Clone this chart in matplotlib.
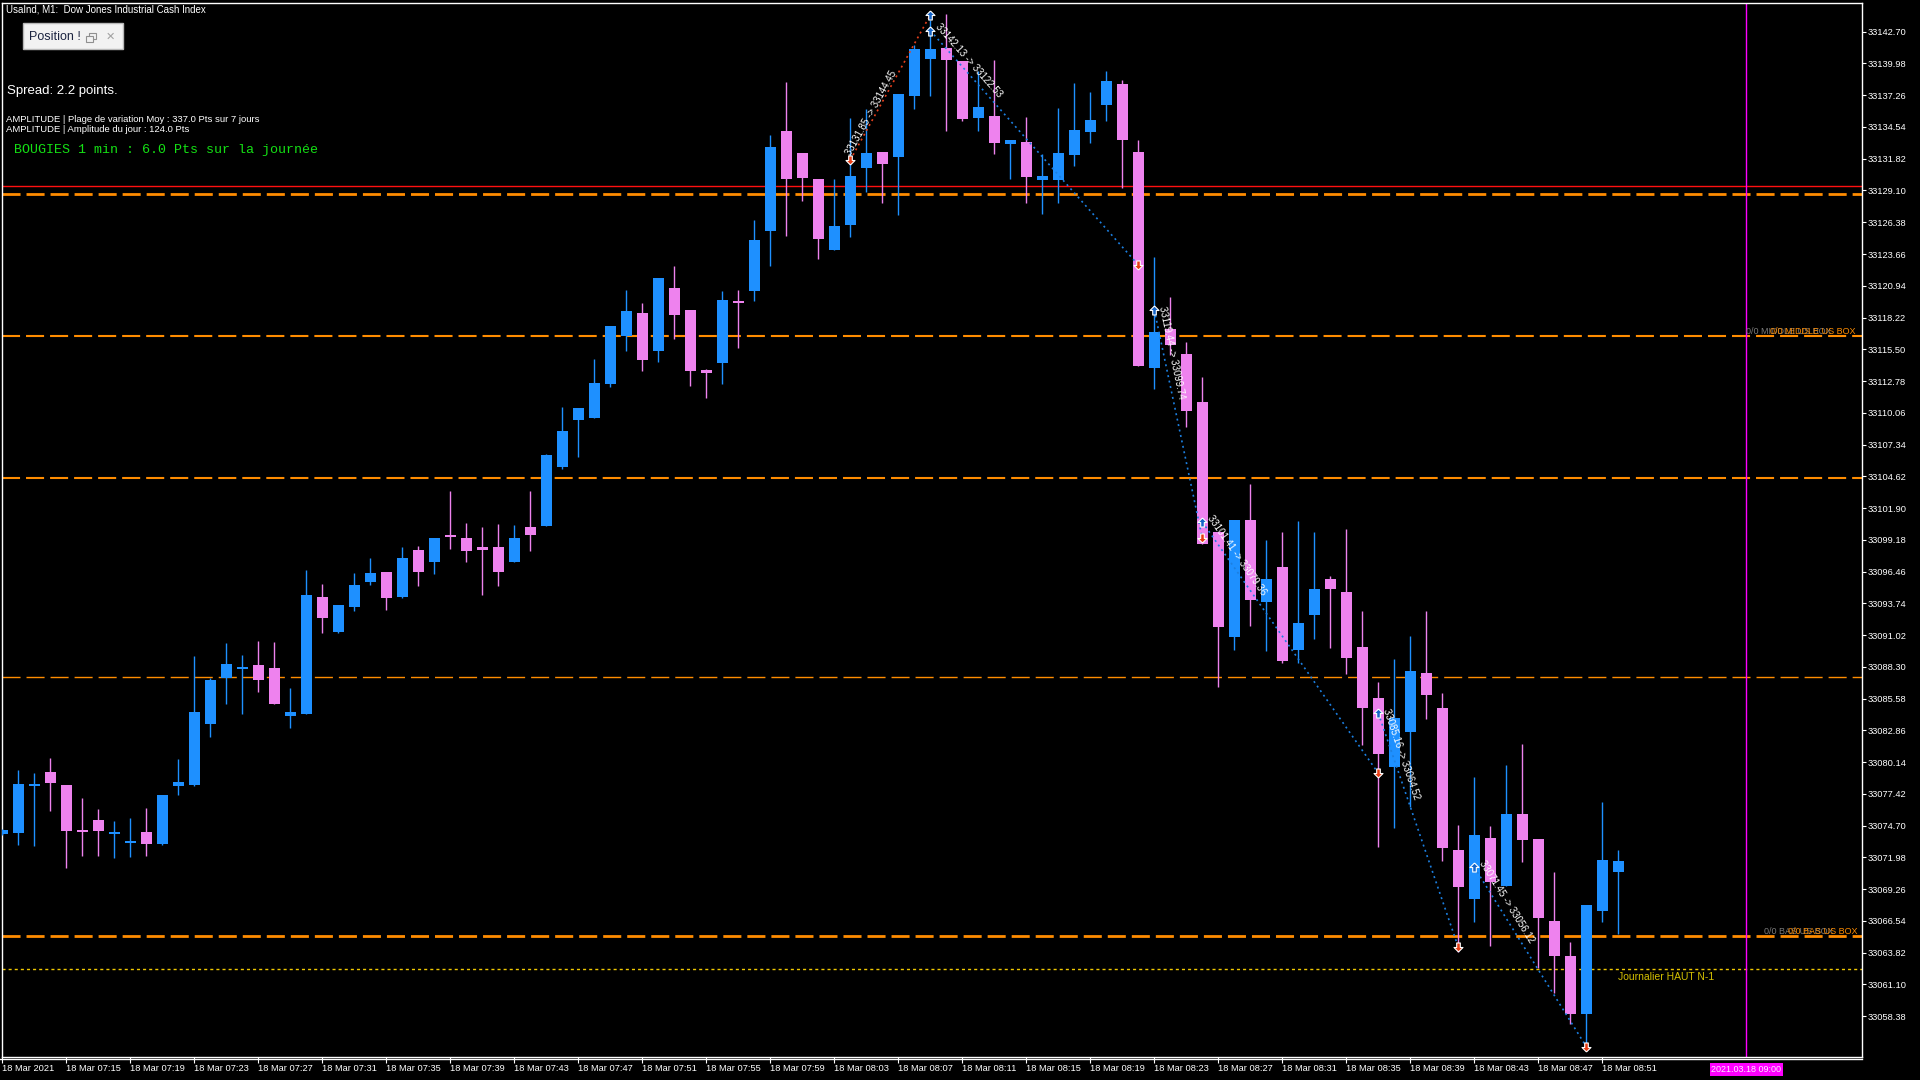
import math
import numpy as np
import matplotlib

matplotlib.use('Agg')
import matplotlib.pyplot as plt
from matplotlib.patches import Rectangle
from matplotlib.lines import Line2D
from matplotlib.path import Path

W, H = 1920, 1080

# UsaInd M1 candles, one per minute from 18 Mar 07:11 to 08:52
opens = [33074.00, 33074.10, 33078.10, 33079.30, 33078.19, 33074.25, 33075.19, 33073.99, 33073.22, 33074.16,
         33073.13, 33078.10, 33078.19, 33083.41, 33087.35, 33088.12, 33088.46, 33088.21, 33084.10, 33084.27,
         33094.29, 33091.29, 33093.43, 33095.57, 33096.43, 33094.29, 33098.31, 33097.29, 33099.51, 33099.34,
         33098.57, 33098.57, 33097.24, 33100.29, 33100.39, 33105.42, 33109.41, 33109.62, 33112.56, 33116.65,
         33118.61, 33115.35, 33120.74, 33118.88, 33113.75, 33114.34, 33119.65, 33120.49, 33125.63, 33134.20,
         33132.31, 33130.07, 33124.02, 33126.16, 33131.02, 33132.41, 33131.96, 33137.20, 33140.37, 33141.31,
         33140.20, 33135.31, 33135.48, 33133.09, 33133.25, 33130.04, 33130.01, 33132.17, 33134.08, 33136.39,
         33138.23, 33132.39, 33113.86, 33117.24, 33115.12, 33110.97, 33099.87, 33090.89, 33100.88, 33093.88,
         33096.84, 33089.77, 33092.77, 33095.83, 33094.71, 33090.01, 33085.64, 33079.76, 33082.76, 33087.78,
         33084.78, 33072.62, 33068.45, 33073.65, 33069.57, 33075.71, 33073.56, 33066.54, 33063.54, 33058.60,
         33067.43, 33070.77]
highs = [33074.40, 33079.47, 33079.22, 33080.50, 33078.19, 33077.07, 33076.13, 33075.10, 33075.36, 33076.22,
         33077.33, 33080.41, 33089.24, 33087.35, 33090.35, 33089.32, 33090.52, 33090.43, 33086.49, 33096.60,
         33095.40, 33093.60, 33096.34, 33097.63, 33096.43, 33098.57, 33098.66, 33099.34, 33103.37, 33100.63,
         33100.28, 33100.54, 33100.46, 33103.36, 33106.54, 33110.56, 33110.46, 33114.66, 33117.49, 33120.60,
         33119.48, 33121.61, 33122.63, 33118.88, 33113.82, 33120.49, 33120.60, 33126.58, 33133.85, 33138.39,
         33132.31, 33130.07, 33130.07, 33135.32, 33136.08, 33132.41, 33137.38, 33141.56, 33143.70, 33144.22,
         33140.20, 33139.34, 33140.28, 33133.43, 33135.41, 33132.24, 33136.17, 33138.30, 33137.54, 33139.34,
         33138.55, 33133.43, 33123.41, 33119.98, 33116.13, 33113.13, 33099.87, 33100.88, 33103.98, 33099.18,
         33099.87, 33100.81, 33099.87, 33096.08, 33100.12, 33093.09, 33087.01, 33088.98, 33090.95, 33093.09,
         33086.07, 33074.76, 33078.87, 33074.68, 33079.90, 33081.70, 33073.56, 33070.74, 33064.74, 33067.91,
         33076.73, 33072.62]
lows = [33073.90, 33073.08, 33072.96, 33075.96, 33071.08, 33072.11, 33072.11, 33071.93, 33072.02, 33072.11,
        33073.05, 33077.33, 33078.10, 33082.30, 33085.12, 33084.27, 33086.15, 33085.12, 33083.07, 33084.27,
        33091.21, 33091.21, 33093.09, 33095.32, 33093.18, 33094.20, 33095.23, 33096.26, 33098.40, 33097.29,
        33094.46, 33095.23, 33097.24, 33098.26, 33100.39, 33105.29, 33106.30, 33109.62, 33112.31, 33115.35,
        33113.64, 33114.41, 33116.37, 33112.35, 33111.33, 33112.52, 33115.60, 33119.65, 33122.63, 33125.21,
        33128.22, 33123.22, 33124.02, 33125.11, 33128.99, 33128.04, 33127.03, 33136.11, 33137.20, 33134.23,
        33135.08, 33134.20, 33132.23, 33130.09, 33128.06, 33127.05, 33128.06, 33131.16, 33133.21, 33135.09,
        33129.28, 33114.04, 33112.13, 33115.05, 33108.81, 33098.86, 33086.60, 33089.77, 33091.83, 33089.63,
        33088.66, 33088.66, 33090.71, 33089.88, 33087.72, 33081.64, 33072.91, 33074.53, 33076.33, 33083.87,
        33071.71, 33063.88, 33066.48, 33064.43, 33069.57, 33071.62, 33062.54, 33060.40, 33057.75, 33055.63,
        33066.48, 33065.46]
closes = [33074.33, 33078.27, 33078.27, 33078.36, 33074.25, 33074.19, 33074.25, 33074.16, 33073.39, 33073.13,
          33077.33, 33078.44, 33084.44, 33087.18, 33088.55, 33088.29, 33087.18, 33085.12, 33084.44, 33094.46,
          33092.49, 33093.60, 33095.32, 33096.34, 33094.20, 33097.63, 33096.43, 33099.34, 33099.43, 33098.23,
          33098.31, 33096.43, 33099.34, 33099.62, 33106.44, 33108.50, 33110.46, 33112.63, 33117.49, 33118.78,
          33114.58, 33121.61, 33118.43, 33113.64, 33113.43, 33119.72, 33119.48, 33124.86, 33132.83, 33130.07,
          33130.18, 33124.93, 33126.05, 33130.35, 33132.31, 33131.37, 33137.38, 33141.22, 33141.22, 33140.28,
          33135.23, 33136.25, 33133.17, 33133.43, 33130.29, 33130.33, 33132.31, 33134.30, 33135.12, 33138.48,
          33133.39, 33114.11, 33116.99, 33115.91, 33110.18, 33098.86, 33091.68, 33100.88, 33093.99, 33095.83,
          33088.84, 33092.05, 33094.97, 33095.00, 33089.05, 33084.81, 33080.87, 33083.93, 33087.95, 33085.93,
          33072.82, 33069.48, 33073.91, 33069.91, 33075.71, 33073.51, 33066.83, 33063.57, 33058.60, 33067.91,
          33071.77, 33071.68]

x_tick_idx = [0, 4, 8, 12, 16, 20, 24, 28, 32, 36, 40, 44, 48, 52, 56, 60, 64, 68, 72, 76, 80, 84, 88, 92, 96, 100]
x_tick_labels = ['18 Mar 2021', '18 Mar 07:15', '18 Mar 07:19', '18 Mar 07:23', '18 Mar 07:27', '18 Mar 07:31',
                 '18 Mar 07:35', '18 Mar 07:39', '18 Mar 07:43', '18 Mar 07:47', '18 Mar 07:51', '18 Mar 07:55',
                 '18 Mar 07:59', '18 Mar 08:03', '18 Mar 08:07', '18 Mar 08:11', '18 Mar 08:15', '18 Mar 08:19',
                 '18 Mar 08:23', '18 Mar 08:27', '18 Mar 08:31', '18 Mar 08:35', '18 Mar 08:39', '18 Mar 08:43',
                 '18 Mar 08:47', '18 Mar 08:51']
y_ticks = [33142.70, 33139.98, 33137.26, 33134.54, 33131.82, 33129.10, 33126.38, 33123.66, 33120.94, 33118.22,
           33115.50, 33112.78, 33110.06, 33107.34, 33104.62, 33101.90, 33099.18, 33096.46, 33093.74, 33091.02,
           33088.30, 33085.58, 33082.86, 33080.14, 33077.42, 33074.70, 33071.98, 33069.26, 33066.54, 33063.82,
           33061.10, 33058.38]

# levels drawn on the chart
red_level = 33129.45
box_levels = [33128.76, 33116.62, 33104.51, 33087.41, 33065.28]
box_widths = [2.0, 1.5, 1.5, 1.0, 2.0]
haut_n1 = 33062.40
session_end_idx = 109  # 09:00

# trade history (entry / exit)
trade_open_idx = [53, 58, 72, 75, 86, 92]
trade_open_px = [33131.72, 33142.79, 33118.87, 33100.71, 33084.33, 33071.14]
trade_close_idx = [58, 71, 75, 86, 91, 99]
trade_close_px = [33144.14, 33122.72, 33099.30, 33079.19, 33064.29, 33055.77]
trade_side = ['sell', 'buy', 'buy', 'buy', 'buy', 'buy']
trade_labels = ['33131.85 -> 33144.45', '33142.13 -> 33122.53', '33119.44 -> 33099.74',
                '33101.41 -> 33079.36', '33085.16 -> 33064.52', '33071.45 -> 33056.12']

BLUE = '#1E90FF'
PINK = '#EE82EE'
ORANGE = '#FF8C00'


def fpos(x, y):
    # pixel position on the 1920x1080 canvas -> figure fraction
    return x / W, 1 - y / H


def main():
    plt.rcParams['font.family'] = ['Liberation Sans', 'DejaVu Sans']
    plt.rcParams['lines.scale_dashes'] = False

    fig = plt.figure(figsize=(19.2, 10.8), dpi=100, facecolor='black')
    ax = fig.add_axes([2 / W, 23.5 / H, 1860 / W, 1053.75 / H])
    ax.set_facecolor('black')
    ax.set_xlim(-0.02, 116.23)
    ax.set_ylim(33054.93, 33145.18)

    o = np.array(opens)
    c = np.array(closes)
    x = np.arange(len(o))
    cols = np.where(c >= o, BLUE, PINK)

    ax.vlines(x, lows, highs, colors=cols, lw=1.0, zorder=3)
    ax.bar(x, np.maximum(np.abs(c - o), 0.15), bottom=np.minimum(o, c), width=0.69,
           color=cols, linewidth=0, zorder=4)

    # levels
    ax.axhline(red_level, color='#FF1010', lw=1.0, zorder=2)
    for lvl, lw in zip(box_levels, box_widths):
        ax.axhline(lvl, color=ORANGE, lw=lw, dashes=(13, 4.3), zorder=2)
    ax.axhline(haut_n1, color='#F0C800', lw=1.0, dashes=(2.2, 2.2), zorder=2)
    ax.axvline(session_end_idx, color='#FF00FF', lw=1.0, zorder=2)

    # box labels: grey shadow copy partly hidden under the orange one, as on the terminal
    ax.text(109.0, box_levels[1], '0/0 MIDDLE US BOX', color='#7A7A7A', fontsize=6.5,
            ha='left', va='bottom', zorder=5)
    ax.text(110.5, box_levels[1], '0/0 MIDDLE US BOX', color=ORANGE, fontsize=6.5,
            ha='left', va='bottom', zorder=6)
    ax.text(110.1, box_levels[4], '0/0 BAS US BOX', color='#7A7A7A', fontsize=6.5,
            ha='left', va='bottom', zorder=5)
    ax.text(111.6, box_levels[4], '0/0 BAS US BOX', color=ORANGE, fontsize=6.5,
            ha='left', va='bottom', zorder=6)
    ax.text(101.0, haut_n1 - 0.25, 'Journalier HAUT N-1', color='#D4C000', fontsize=7.5,
            ha='left', va='top', zorder=5)

    # trades
    up_arrow = Path([(0, 1), (1, 0), (0.4, 0), (0.4, -1), (-0.4, -1), (-0.4, 0), (-1, 0), (0, 1)])
    down_arrow = Path([(0, -1), (1, 0), (0.4, 0), (0.4, 1), (-0.4, 1), (-0.4, 0), (-1, 0), (0, -1)])
    for k0, p0, k1, p1, side, lbl in zip(trade_open_idx, trade_open_px, trade_close_idx,
                                         trade_close_px, trade_side, trade_labels):
        lc = '#E8401C' if side == 'sell' else '#1C7FE0'
        ax.plot([k0, k1], [p0, p1], color=lc, lw=1.2, dashes=(1.4, 2.6), zorder=5)
        buy_pt = (k1, p1) if side == 'sell' else (k0, p0)
        sell_pt = (k0, p0) if side == 'sell' else (k1, p1)
        ax.plot(*buy_pt, marker=up_arrow, ms=6.5, mfc='#1464C8', mec='white', mew=0.8, zorder=7)
        ax.plot(*sell_pt, marker=down_arrow, ms=6.5, mfc='#E83C14', mec='white', mew=0.8, zorder=7)
        a = ax.transData.transform((k0, p0))
        b = ax.transData.transform((k1, p1))
        ang = math.degrees(math.atan2(b[1] - a[1], b[0] - a[0]))
        ax.annotate(lbl, (k0, p0), xytext=(2, 2), textcoords='offset points', rotation=ang,
                    rotation_mode='anchor', ha='left', va='bottom', color='white',
                    fontsize=7, zorder=8)

    # axes styling
    for sp in ax.spines.values():
        sp.set_color('white')
        sp.set_linewidth(1.0)
    ax.yaxis.tick_right()
    ax.set_yticks(y_ticks)
    ax.set_yticklabels(['%.2f' % v for v in y_ticks])
    ax.tick_params(axis='y', colors='white', length=3, width=0.8, pad=1, labelsize=6.7)
    ax.set_xticks(x_tick_idx)
    ax.set_xticklabels(x_tick_labels)
    ax.tick_params(axis='x', colors='white', length=4, width=0.8, pad=1.5, labelsize=6.7)
    for t in ax.get_xticklabels():
        t.set_ha('left')
    ax.annotate('2021.03.18 09:00', (session_end_idx, 33054.93), xytext=(0, -9.4),
                textcoords='offset points', ha='center', va='center', fontsize=6.5,
                color='#FFE8FF', annotation_clip=False,
                bbox=dict(boxstyle='square,pad=0.2', facecolor='#FF00FF', edgecolor='none'))
    fig.add_artist(Line2D([0, 1862 / W], [1 - 1059.3 / H] * 2, color='white', lw=1.0))

    # header texts
    fig.text(*fpos(6.5, 9.7), 'UsaInd, M1:  Dow Jones Industrial Cash Index', color='white',
             fontsize=7, va='center', ha='left')
    fig.text(*fpos(7, 91), 'Spread: 2.2 points.', color='white', fontsize=9.5, va='center', ha='left')
    fig.text(*fpos(6, 119), 'AMPLITUDE | Plage de variation Moy : 337.0 Pts sur 7 jours', color='white',
             fontsize=6.8, va='center', ha='left')
    fig.text(*fpos(6, 130), 'AMPLITUDE | Amplitude du jour : 124.0 Pts', color='white',
             fontsize=6.8, va='center', ha='left')
    fig.text(*fpos(14, 150), 'BOUGIES 1 min : 6.0 Pts sur la journée', color='#14E014',
             fontsize=9.6, family='Liberation Mono', va='center', ha='left')

    # floating "Position" panel
    fig.add_artist(Rectangle(fpos(23, 49), 100 / W, 26 / H, transform=fig.transFigure,
                             facecolor='#F2F2F2', edgecolor='#B8B8B8', lw=1.0))
    fig.text(*fpos(29, 36.5), 'Position !', color='#1C2440', fontsize=9, va='center', ha='left')
    fig.add_artist(Rectangle(fpos(89, 39), 7 / W, 6 / H, transform=fig.transFigure,
                             facecolor='none', edgecolor='#909090', lw=0.8))
    fig.add_artist(Rectangle(fpos(86, 42), 7 / W, 6 / H, transform=fig.transFigure,
                             facecolor='#F2F2F2', edgecolor='#909090', lw=0.8))
    fig.text(*fpos(110.5, 36.5), '✕', color='#A0A0A0', fontsize=8, fontweight='bold',
             family='DejaVu Sans', va='center', ha='center')

    fig.savefig('out.png', dpi=100, facecolor='black')
    plt.close(fig)


if __name__ == '__main__':
    main()
